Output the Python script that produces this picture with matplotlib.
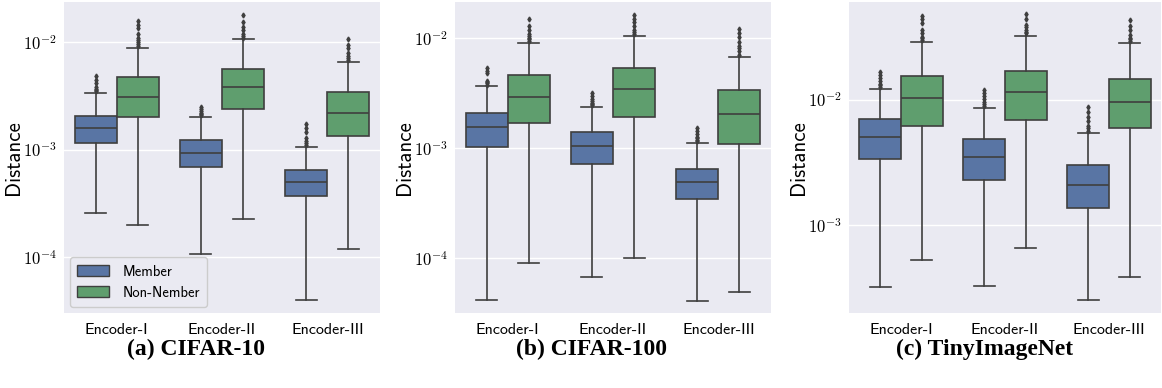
import matplotlib
matplotlib.use("Agg")
import matplotlib.pyplot as plt
from matplotlib.patches import Patch
from matplotlib.ticker import FuncFormatter
import numpy as np

# five-number summaries: (whisker low, q1, median, q3, whisker high)
encoders = ["Encoder-I", "Encoder-II", "Encoder-III"]
groups = ["Member", "Non-Nember"]
panel_titles = ["(a) CIFAR-10", "(b) CIFAR-100", "(c) TinyImageNet"]

cifar10_member = [
    (2.57e-4, 1.15e-3, 1.58e-3, 2.05e-3, 3.37e-3),
    (1.07e-4, 6.97e-4, 9.4e-4, 1.22e-3, 2.02e-3),
    (3.98e-5, 3.69e-4, 5.0e-4, 6.45e-4, 1.06e-3),
]
cifar10_nonmember = [
    (1.99e-4, 2.0e-3, 3.12e-3, 4.79e-3, 8.9e-3),
    (2.27e-4, 2.41e-3, 3.81e-3, 5.69e-3, 1.07e-2),
    (1.19e-4, 1.34e-3, 2.21e-3, 3.42e-3, 6.6e-3),
]
cifar100_member = [
    (4.18e-5, 1.02e-3, 1.56e-3, 2.1e-3, 3.68e-3),
    (6.7e-5, 7.16e-4, 1.06e-3, 1.40e-3, 2.39e-3),
    (4.12e-5, 3.44e-4, 4.97e-4, 6.53e-4, 1.12e-3),
]
cifar100_nonmember = [
    (9.0e-5, 1.69e-3, 2.92e-3, 4.64e-3, 9.12e-3),
    (1.0e-4, 1.94e-3, 3.44e-3, 5.41e-3, 1.06e-2),
    (4.94e-5, 1.09e-3, 2.04e-3, 3.37e-3, 6.72e-3),
]
tiny_member = [
    (3.22e-4, 3.38e-3, 5.04e-3, 7.05e-3, 1.23e-2),
    (3.28e-4, 2.30e-3, 3.49e-3, 4.89e-3, 8.68e-3),
    (2.52e-4, 1.38e-3, 2.08e-3, 3.03e-3, 5.48e-3),
]
tiny_nonmember = [
    (5.28e-4, 6.21e-3, 1.03e-2, 1.55e-2, 2.92e-2),
    (6.55e-4, 6.97e-3, 1.15e-2, 1.71e-2, 3.26e-2),
    (3.87e-4, 5.94e-3, 9.64e-3, 1.47e-2, 2.83e-2),
]

# outliers above the upper whisker
cifar10_member_fliers = [
    [3.5e-3, 3.6e-3, 3.7e-3, 3.8e-3, 4.2e-3, 4.5e-3, 4.86e-3],
    [2.1e-3, 2.15e-3, 2.2e-3, 2.3e-3, 2.4e-3, 2.51e-3],
    [1.1e-3, 1.15e-3, 1.2e-3, 1.3e-3, 1.45e-3, 1.6e-3, 1.73e-3],
]
cifar10_nonmember_fliers = [
    [9.3e-3, 9.6e-3, 1.0e-2, 1.05e-2, 1.1e-2, 1.2e-2, 1.35e-2, 1.45e-2, 1.59e-2],
    [1.1e-2, 1.15e-2, 1.2e-2, 1.3e-2, 1.4e-2, 1.55e-2, 1.79e-2],
    [6.9e-3, 7.2e-3, 7.4e-3, 8.0e-3, 8.8e-3, 9.5e-3, 1.07e-2],
]
cifar100_member_fliers = [
    [3.8e-3, 3.9e-3, 4.0e-3, 4.1e-3, 4.8e-3, 5.0e-3, 5.34e-3],
    [2.5e-3, 2.55e-3, 2.6e-3, 2.7e-3, 2.8e-3, 3.0e-3, 3.2e-3],
    [1.16e-3, 1.2e-3, 1.23e-3, 1.27e-3, 1.35e-3, 1.43e-3, 1.52e-3],
]
cifar100_nonmember_fliers = [
    [9.5e-3, 9.8e-3, 1.0e-2, 1.05e-2, 1.1e-2, 1.2e-2, 1.3e-2, 1.5e-2],
    [1.1e-2, 1.15e-2, 1.2e-2, 1.3e-2, 1.4e-2, 1.5e-2, 1.63e-2],
    [7.1e-3, 7.7e-3, 8.1e-3, 8.5e-3, 9.3e-3, 1.03e-2, 1.12e-2, 1.21e-2],
]
tiny_member_fliers = [
    [1.28e-2, 1.32e-2, 1.35e-2, 1.42e-2, 1.5e-2, 1.58e-2, 1.68e-2],
    [9.0e-3, 9.3e-3, 9.6e-3, 1.02e-2, 1.08e-2, 1.14e-2, 1.2e-2],
    [5.7e-3, 6.0e-3, 6.2e-3, 6.8e-3, 7.3e-3, 8.0e-3, 8.79e-3],
]
tiny_nonmember_fliers = [
    [3.0e-2, 3.1e-2, 3.2e-2, 3.4e-2, 3.6e-2, 4.1e-2, 4.4e-2, 4.68e-2],
    [3.4e-2, 3.5e-2, 3.6e-2, 3.8e-2, 4.0e-2, 4.4e-2, 4.83e-2],
    [2.95e-2, 3.05e-2, 3.1e-2, 3.3e-2, 3.6e-2, 3.9e-2, 4.35e-2],
]

ylims = [(3.03e-5, 2.37e-2), (3.18e-5, 2.14e-2), (2.0e-4, 6.05e-2)]

member_color = "#5975a4"
nonmember_color = "#5f9e6e"
line_color = "#3f3f3f"

plt.rcParams["mathtext.fontset"] = "cm"
sans = "cmss10"


def make_stats(summary, fliers):
    out = []
    for s, f in zip(summary, fliers):
        out.append({"whislo": s[0], "q1": s[1], "med": s[2], "q3": s[3],
                    "whishi": s[4], "fliers": f})
    return out


def log_label(v, pos):
    return r"$10^{%d}$" % int(round(np.log10(v)))


def draw_panel(ax, member, nonmember, m_fl, n_fl, ylim, show_legend, label_x):
    ax.set_facecolor("#eaeaf2")
    for sp in ax.spines.values():
        sp.set_visible(False)
    ax.set_yscale("log")
    ax.set_ylim(*ylim)
    ax.yaxis.set_major_formatter(FuncFormatter(log_label))
    ax.grid(True, axis="y", which="major", color="white", linewidth=1.0)
    ax.set_axisbelow(True)

    width = 0.4
    for k, (summ, fl, col) in enumerate([(member, m_fl, member_color),
                                         (nonmember, n_fl, nonmember_color)]):
        pos = [i - 0.2 + k * 0.4 for i in range(len(encoders))]
        ax.bxp(make_stats(summ, fl), positions=pos, widths=width,
               patch_artist=True, manage_ticks=False,
               boxprops=dict(facecolor=col, edgecolor=line_color, linewidth=1.2),
               medianprops=dict(color=line_color, linewidth=1.2),
               whiskerprops=dict(color=line_color, linewidth=1.2),
               capprops=dict(color=line_color, linewidth=1.2),
               flierprops=dict(marker="d", markersize=2.5, markerfacecolor=line_color,
                               markeredgecolor=line_color, linestyle="none"),
               capwidths=0.2)

    ax.set_xlim(-0.5, len(encoders) - 0.5)
    ax.set_xticks(range(len(encoders)))
    ax.set_xticklabels(encoders, fontfamily=sans, fontsize=11.5)
    ax.tick_params(axis="x", length=0, pad=7)
    ax.tick_params(axis="y", length=0, labelsize=12, pad=5)
    ax.tick_params(axis="y", which="minor", length=0)
    ax.set_ylabel("Distance", fontfamily=sans, fontsize=15)
    ax.yaxis.set_label_coords(label_x, 0.5)

    if show_legend:
        handles = [Patch(facecolor=member_color, edgecolor=line_color, label=groups[0]),
                   Patch(facecolor=nonmember_color, edgecolor=line_color, label=groups[1])]
        ax.legend(handles=handles, loc="lower left", prop={"family": sans, "size": 10.5},
                  handlelength=2.2, handleheight=0.8, handletextpad=0.9,
                  facecolor="#eaeaf2", edgecolor="#cccccc", framealpha=1.0,
                  borderpad=0.5, labelspacing=0.5, borderaxespad=0.4)


fig = plt.figure(figsize=(11.62, 3.88), dpi=100)
lefts = [64 / 1162, 455 / 1162, 849 / 1162]
widths = [316 / 1162, 316 / 1162, 312 / 1162]
bottom = 75 / 388
height = 311 / 388
label_xs = [-0.13, -0.13, -0.13]

data = [
    (cifar10_member, cifar10_nonmember, cifar10_member_fliers, cifar10_nonmember_fliers),
    (cifar100_member, cifar100_nonmember, cifar100_member_fliers, cifar100_nonmember_fliers),
    (tiny_member, tiny_nonmember, tiny_member_fliers, tiny_nonmember_fliers),
]
caption_x = [196 / 1162, 591 / 1162, 985 / 1162]

for i in range(3):
    ax = fig.add_axes([lefts[i], bottom, widths[i], height])
    m, n, mf, nf = data[i]
    draw_panel(ax, m, n, mf, nf, ylims[i], show_legend=(i == 0), label_x=label_xs[i])
    fig.text(caption_x[i], 39 / 388, panel_titles[i], ha="center", va="center",
             fontfamily="Liberation Serif", fontweight="bold", fontsize=17)

fig.savefig("out.png", dpi=100)
